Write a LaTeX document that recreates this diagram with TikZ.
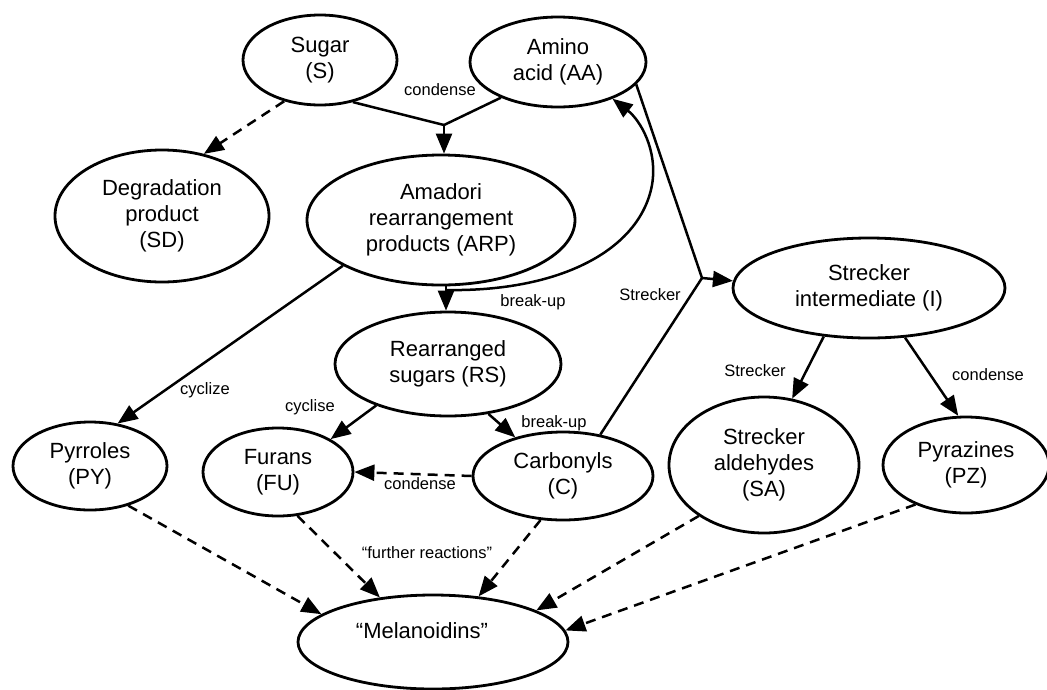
\documentclass[tikz,border=0pt]{standalone}
\usepackage{fontspec}
\setmainfont{Liberation Sans}
\usetikzlibrary{shapes.geometric,arrows.meta}

\begin{document}
\begin{tikzpicture}[x=1pt,y=-1pt,
  ell/.style={ellipse,draw,line width=2.8pt,inner sep=0pt,align=center,
    font=\fontsize{22}{26}\selectfont},
  lbl/.style={font=\fontsize{16.5}{19}\selectfont,inner sep=0pt},
  conn/.style={line width=2.5pt},
  arr/.style={conn,-{Triangle[length=20pt,width=16pt]}},
  darr/.style={arr,dash pattern=on 10pt off 7pt}]

\fill[white] (0,0) rectangle (1047,689);
\useasboundingbox (0,0) rectangle (1047,689);

% species
\node[ell,minimum width=154,minimum height=90]  (S)   at (320,60)  {Sugar\\(S)};
\node[ell,minimum width=176,minimum height=90]  (AA)  at (558,62)  {Amino\\acid (AA)};
\node[ell,minimum width=214,minimum height=132] (SD)  at (162,216) {Degradation\\product\\(SD)};
\node[ell,minimum width=268,minimum height=130] (ARP) at (441,220) {Amadori\\rearrangement\\products (ARP)};
\node[ell,minimum width=226,minimum height=104] (RS)  at (448,364) {Rearranged\\sugars (RS)};
\node[ell,minimum width=272,minimum height=100] (I)   at (869,288) {Strecker\\intermediate (I)};
\node[ell,minimum width=154,minimum height=88]  (PY)  at (90,466)  {Pyrroles\\(PY)};
\node[ell,minimum width=150,minimum height=88]  (FU)  at (278,472) {Furans\\(FU)};
\node[ell,minimum width=180,minimum height=88]  (C)   at (563,476) {Carbonyls\\(C)};
\node[ell,minimum width=190,minimum height=136] (SA)  at (764,465) {Strecker\\aldehydes\\(SA)};
\node[ell,minimum width=166,minimum height=96]  (PZ)  at (966,465) {Pyrazines\\(PZ)};
\node[ell,minimum width=270,minimum height=94]  (MEL) at (433,642) {};
\node[font=\fontsize{22}{26}\selectfont,inner sep=0pt] (MELt) at (422,631) {“Melanoidins”};

% junctions
\coordinate (J1) at (444,125);
\coordinate (J2) at (702,278);
\coordinate (bk) at (446,290);

% condensation of sugar and amino acid
\draw[conn] (S.308) -- (J1);
\draw[conn] (AA.212) -- (J1);
\draw[arr] (J1) -- (J1 |- ARP.north);
\node[lbl] (l1) at (440,90) {condense};

% sugar degradation
\draw[darr] (S.229) -- (SD.56);

% Amadori products
\draw[arr] (ARP.south -| bk) -- (bk |- RS.north);
\draw[arr] (bk) .. controls (560,292) and (640,250) .. (652,185)
  .. controls (658,150) and (640,120) .. (AA.326);
\node[lbl] (l2) at (533,302) {break-up};
\draw[arr] (ARP.205) -- (PY.57);
\node[lbl] (l3) at (205,390) {cyclize};

% rearranged sugars
\draw[arr] (RS.210) -- (FU.32);
\node[lbl] (l4) at (310,407) {cyclise};
\draw[arr] (RS.309) -- (C.141);
\node[lbl] (l5) at (554,423) {break-up};
\draw[darr] (C.west) -- (FU.east);
\node[lbl] (l6) at (420,484) {condense};

% Strecker degradation
\draw[conn] (AA.344) -- (J2);
\draw[conn] (C.48) -- (J2);
\draw[arr] (J2) -- (I.177);
\node[lbl] (l7) at (650,295) {Strecker};
\draw[arr] (I.227) -- (SA.67);
\node[lbl] (l8) at (755,371) {Strecker};
\draw[arr] (I.306) -- (PZ.99);
\node[lbl] (l9) at (988,375) {condense};

% further reactions to melanoidins
\draw[darr] (PY.314) -- (MEL.166);
\draw[darr] (FU.294) -- (MEL.140);
\draw[darr] (C.243) -- (MEL.45);
\draw[darr] (SA.218) -- (MEL.17);
\draw[darr] (PZ.218) -- (MEL.5);
\node[lbl] (l10) at (427,553) {“further reactions”};
\end{tikzpicture}
\end{document}
